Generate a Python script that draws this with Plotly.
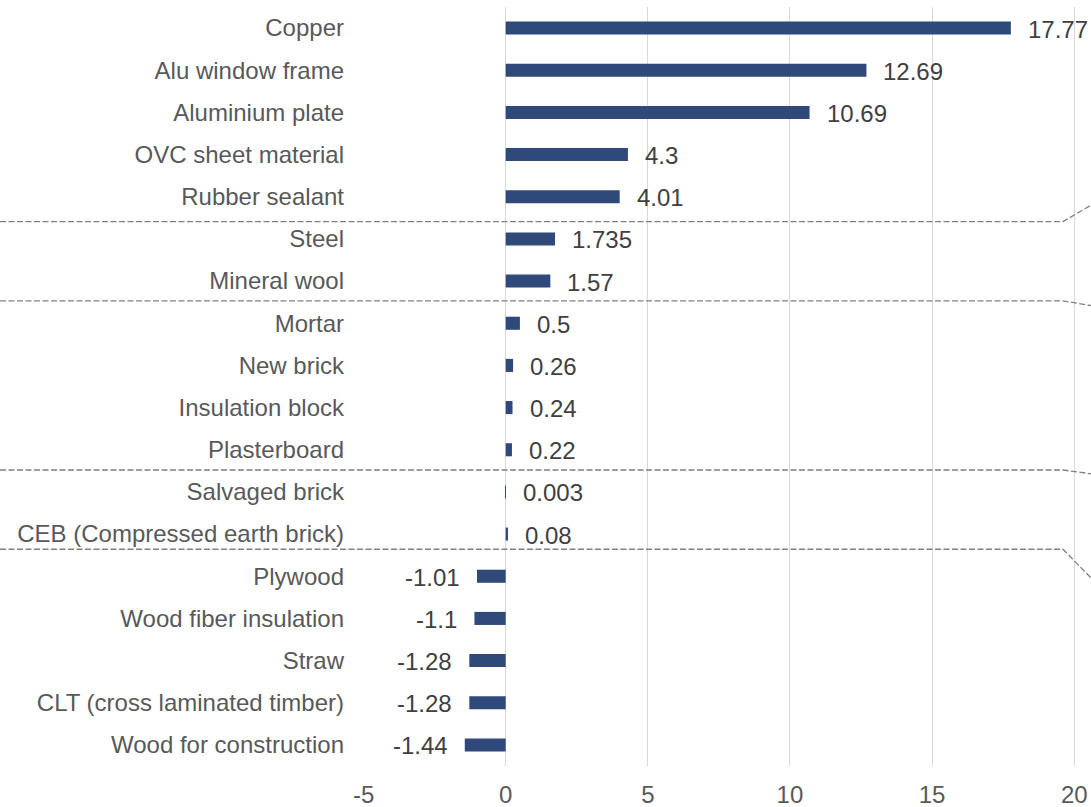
import plotly.graph_objects as go

# Embodied carbon per material (top to bottom)
materials = [
    "Copper", "Alu window frame", "Aluminium plate", "OVC sheet material",
    "Rubber sealant", "Steel", "Mineral wool", "Mortar", "New brick",
    "Insulation block", "Plasterboard", "Salvaged brick",
    "CEB (Compressed earth brick)", "Plywood", "Wood fiber insulation",
    "Straw", "CLT (cross laminated timber)", "Wood for construction",
]
values = [
    17.77, 12.69, 10.69, 4.3, 4.01, 1.735, 1.57, 0.5, 0.26, 0.24, 0.22,
    0.003, 0.08, -1.01, -1.1, -1.28, -1.28, -1.44,
]
value_labels = [
    "17.77", "12.69", "10.69", "4.3", "4.01", "1.735", "1.57", "0.5", "0.26",
    "0.24", "0.22", "0.003", "0.08", "-1.01", "-1.1", "-1.28", "-1.28", "-1.44",
]
x_ticks = [-5, 0, 5, 10, 15, 20]

# Group separators: row position of the level line, and where its tail ends
sep_rows = [4.59, 6.47, 10.48, 12.36]
sep_tail_rows = [4.20, 6.58, 10.57, 13.04]

FONT = "Liberation Sans, Arial, sans-serif"
FSIZE = 24
BAR = "#2F4A7A"
GRID = "#D9D9D9"

fig = go.Figure()
fig.add_trace(go.Bar(
    x=values, y=materials, orientation="h",
    marker=dict(color=BAR, line=dict(width=0)),
    width=0.31, hoverinfo="skip",
))

# value labels just beyond each bar end
for m, v, t in zip(materials, values, value_labels):
    fig.add_annotation(
        x=v, y=m, text=t, showarrow=False,
        xanchor="left" if v >= 0 else "right",
        xshift=15 if v >= 0 else -15, yshift=-1,
        font=dict(family=FONT, size=FSIZE, color="#404040"),
    )

# dashed group separators running across the chart
x_left = -363 / 728
x_knee = 0.9615
for r0, r1 in zip(sep_rows, sep_tail_rows):
    fig.add_shape(
        type="path", xref="paper", yref="y",
        path=f"M {x_left},{r0} L {x_knee},{r0} L 1,{r1}",
        line=dict(color="#808080", width=1.3, dash="6px,2.5px"),
        layer="above",
    )

fig.update_layout(
    width=1091, height=807,
    margin=dict(l=363, r=0, t=7, b=41),
    paper_bgcolor="white", plot_bgcolor="white",
    showlegend=False,
    font=dict(family=FONT, size=FSIZE, color="#595959"),
    xaxis=dict(
        range=[-5.02, 20.59], tickmode="array", tickvals=x_ticks,
        ticktext=[str(t) for t in x_ticks],
        showgrid=True, gridcolor=GRID, gridwidth=1.3,
        zeroline=True, zerolinecolor=GRID, zerolinewidth=1.3,
        showline=False, ticks="", ticklabelstandoff=12,
        tickfont=dict(family=FONT, size=FSIZE, color="#595959"),
        automargin=False, fixedrange=True,
    ),
    yaxis=dict(
        categoryorder="array", categoryarray=materials,
        autorange="reversed", showgrid=False, zeroline=False,
        showline=False, ticks="", ticklabelstandoff=18,
        tickfont=dict(family=FONT, size=FSIZE, color="#595959"),
        automargin=False, fixedrange=True,
    ),
)

fig.write_html("out.html")
